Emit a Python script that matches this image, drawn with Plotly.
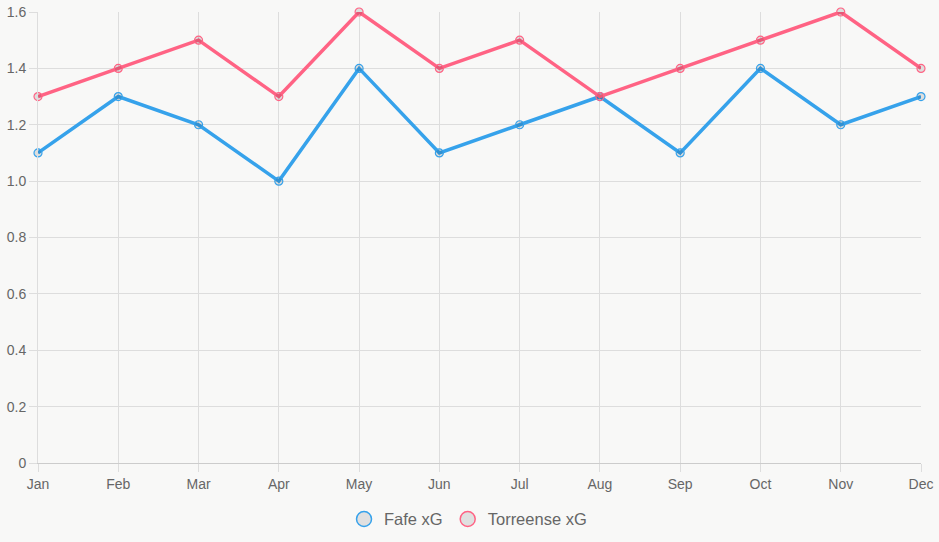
import plotly.graph_objects as go

months = ["Jan", "Feb", "Mar", "Apr", "May", "Jun", "Jul", "Aug", "Sep", "Oct", "Nov", "Dec"]
fafe_xg = [1.1, 1.3, 1.2, 1.0, 1.4, 1.1, 1.2, 1.3, 1.1, 1.4, 1.2, 1.3]
torreense_xg = [1.3, 1.4, 1.5, 1.3, 1.6, 1.4, 1.5, 1.3, 1.4, 1.5, 1.6, 1.4]
y_tickvals = [0, 0.2, 0.4, 0.6, 0.8, 1.0, 1.2, 1.4, 1.6]
y_ticktext = ["0", "0.2", "0.4", "0.6", "0.8", "1.0", "1.2", "1.4", "1.6"]

series = [
    ("Fafe xG", fafe_xg, "#36A2EB"),
    ("Torreense xG", torreense_xg, "#FF6384"),
]

fig = go.Figure()
for name, vals, col in series:
    fig.add_trace(go.Scatter(
        x=list(range(len(months))), y=vals, name=name, mode="lines+markers",
        line=dict(color=col, width=3.5),
        marker=dict(size=8, color="rgba(0,0,0,0.1)", line=dict(color=col, width=1.2)),
        cliponaxis=False, showlegend=False,
    ))
for name, vals, col in series:
    fig.add_trace(go.Scatter(
        x=[None], y=[None], name=name, mode="markers",
        marker=dict(size=15, color="#e0e0e0", line=dict(color=col, width=1.5)),
        showlegend=True,
    ))

fig.update_layout(
    width=939, height=542,
    margin=dict(l=38, r=18, t=12, b=79, autoexpand=False),
    paper_bgcolor="#f8f8f7", plot_bgcolor="#f8f8f7",
    font=dict(family="Liberation Sans, Arial, sans-serif", color="#666666", size=14),
    showlegend=True,
    legend=dict(orientation="h", x=0.487, xanchor="center", y=-0.086, yanchor="top",
                font=dict(size=16.5, color="#666666"), itemwidth=30),
    xaxis=dict(
        range=[0, 11], tickvals=list(range(len(months))), ticktext=months,
        showgrid=True, gridcolor="#dddddd", gridwidth=1,
        ticks="outside", ticklen=8, tickcolor="#dddddd",
        showline=True, linecolor="#cccccc", linewidth=1,
        zeroline=False, tickfont=dict(size=14, color="#666666"),
        automargin=False,
    ),
    yaxis=dict(
        range=[0, 1.6], tickvals=y_tickvals, ticktext=y_ticktext,
        showgrid=True, gridcolor="#dddddd", gridwidth=1,
        ticks="outside", ticklen=8, tickcolor="#dddddd",
        showline=True, linecolor="#dddddd", linewidth=1,
        zeroline=False, tickfont=dict(size=14, color="#666666"),
        automargin=False,
    ),
)

fig.write_html("out.html")
